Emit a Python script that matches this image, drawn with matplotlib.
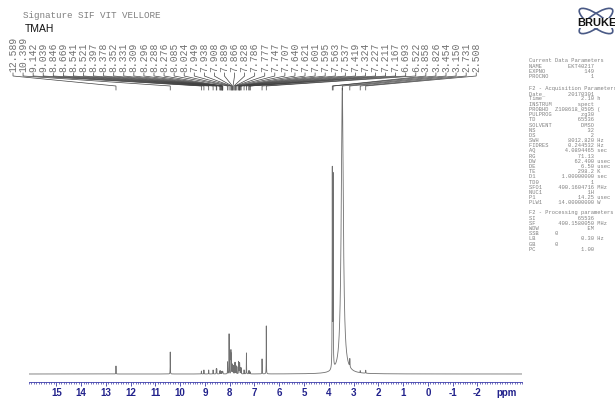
import numpy as np
import matplotlib
matplotlib.use("Agg")
import matplotlib.pyplot as plt
from matplotlib.lines import Line2D
from matplotlib.patches import Ellipse
from matplotlib.ticker import MultipleLocator

plt.rcParams['axes.unicode_minus'] = False

# peak list (ppm) as printed on the spectrum, with heights (px above baseline)
peak_ppm = [12.589, 10.399, 9.142, 9.039, 8.846, 8.669, 8.541, 8.521, 8.397, 8.378,
            8.352, 8.331, 8.309, 8.296, 8.288, 8.276, 8.085, 8.024, 7.949, 7.938,
            7.908, 7.889, 7.866, 7.828, 7.786, 7.777, 7.747, 7.707, 7.640, 7.621,
            7.601, 7.595, 7.563, 7.537, 7.419, 7.324, 7.227, 7.211, 7.167, 6.693,
            6.522, 3.858, 3.826, 3.454, 3.150, 2.731, 2.508]
peak_height = [8, 22, 3, 4, 4, 4, 5, 5, 3, 3,
               2, 2, 2, 2, 2, 2, 12, 40, 22, 18,
               9, 9, 8, 8, 10, 9, 8, 7, 12, 10,
               8, 8, 6, 6, 4, 21, 3, 3, 2, 15,
               48, 197, 190, 286, 8, 2, 3]
peak_width = [0.004] * 41 + [0.006, 0.006, 0.05, 0.006, 0.005, 0.006]

tick_values = list(range(-2, 16))

param_title = "Signature SIF VIT VELLORE"
sample_name = "TMAH"

current_names = ["NAME", "EXPNO", "PROCNO"]
current_values = ["EKT40217", "149", "1"]

acq_names = ["Date_", "Time", "INSTRUM", "PROBHD", "PULPROG", "TD", "SOLVENT", "NS", "DS",
             "SWH", "FIDRES", "AQ", "RG", "DW", "DE", "TE", "D1", "TD0", "SFO1", "NUC1",
             "P1", "PLW1"]
acq_values = ["20170301", "2.10 h", "spect", "Z108618_0505 (", "zg30", "65536", "DMSO",
              "32", "2", "8012.820 Hz", "0.244532 Hz", "4.0894465 sec", "71.13",
              "62.400 usec", "6.50 usec", "298.2 K", "1.00000000 sec", "1",
              "400.1604716 MHz", "1H", "14.25 usec", "14.00000000 W"]

proc_names = ["SI", "SF", "WDW", "SSB", "LB", "GB", "PC"]
proc_values = ["65536", "400.1580050 MHz", "EM", "0", "0.30 Hz", "0", "1.00"]

W, H = 615, 399
fig = plt.figure(figsize=(W / 100, H / 100), dpi=100)


def fx(x):
    return x / W


def fy(y):
    return 1 - y / H


# spectrum axes (height units ~ pixels above baseline)
ax = fig.add_axes([fx(29), fy(382), fx(493), 322 / H])
ax.set_xlim(16.1, -3.8)
ax.set_ylim(-8, 314)

x = np.linspace(16.1, -3.8, 60000)
y = np.zeros_like(x)
for c, h, w in zip(peak_ppm, peak_height, peak_width):
    y += h / (1 + ((x - c) / w) ** 2)
ax.plot(x, y, color='#707070', lw=0.6)

blue = '#3a3aa8'
for s in ['top', 'left', 'right']:
    ax.spines[s].set_visible(False)
ax.spines['bottom'].set_color(blue)
ax.spines['bottom'].set_linewidth(0.6)
ax.set_yticks([])
ax.set_xticks(tick_values)
ax.xaxis.set_minor_locator(MultipleLocator(0.1))
ax.tick_params(axis='x', which='major', direction='out', length=3, width=0.6,
               color=blue, labelcolor='#22228c', labelsize=7, pad=1.5)
ax.tick_params(axis='x', which='minor', direction='out', length=1.5, width=0.5, color=blue)
for t in ax.get_xticklabels():
    t.set_family('Liberation Sans')
    t.set_fontweight('bold')
fig.text(fx(507), fy(393), 'ppm', ha='center', va='center', color='#22228c',
         fontsize=7, family='Liberation Sans', fontweight='bold')

# peak labels with connectors
for i, p in enumerate(peak_ppm):
    lx = 13 + 10.07 * i
    fig.text(fx(lx), fy(72), f"{p:.3f}", rotation=90, ha='center', va='bottom',
             family='Liberation Mono', fontsize=7, color='#707070')
    px = ax.transData.transform((p, 0))[0]
    xs = [fx(lx), fx(lx), px / W, px / W]
    ys = [fy(73), fy(76), fy(86), fy(90)]
    fig.add_artist(Line2D(xs, ys, transform=fig.transFigure, color='#404040', lw=0.5))

# title block
fig.text(fx(23), fy(16), param_title, ha='left', va='center', family='Liberation Mono',
         fontsize=6.7, color='#808080')
fig.text(fx(25), fy(29), sample_name, ha='left', va='center', family='Liberation Sans',
         fontsize=7.5, color='#111111')

# parameter panel
mono = dict(family='Liberation Mono', fontsize=3.9, color='#808080', ha='left', va='center')
yy = 61
step = 5.2
fig.text(fx(529), fy(yy), "Current Data Parameters", **mono)
for n, v in zip(current_names, current_values):
    yy += step
    fig.text(fx(529), fy(yy), f"{n:<8}{v:>12}", **mono)
yy += 12
fig.text(fx(529), fy(yy), "F2 - Acquisition Parameters", **mono)
for n, v in zip(acq_names, acq_values):
    yy += step
    parts = v.split(' ')
    if len(parts) == 2:
        txt = f"{n:<8}{parts[0]:>12} {parts[1]}"
    else:
        txt = f"{n:<8}{v:>12}"
    fig.text(fx(529), fy(yy), txt, **mono)
yy += 10
fig.text(fx(529), fy(yy), "F2 - Processing parameters", **mono)
for n, v in zip(proc_names, proc_values):
    yy += step
    parts = v.split(' ')
    if n in ("SSB", "GB"):
        txt = f"{n:<8}{v}"
    elif len(parts) == 2:
        txt = f"{n:<8}{parts[0]:>12} {parts[1]}"
    else:
        txt = f"{n:<8}{v:>12}"
    fig.text(fx(529), fy(yy), txt, **mono)

# Bruker logo
lax = fig.add_axes([fx(572), fy(42), fx(43), 40 / H])
lax.set_xlim(0, 43)
lax.set_ylim(0, 40)
lax.axis('off')
for ang in (35, -35):
    lax.add_patch(Ellipse((24, 21), 40, 13, angle=ang, fill=False, ec='#4a5a86', lw=1.2))
lax.text(5, 19, "BRUKER", ha='left', va='center', fontsize=8, fontweight='bold',
         family='Liberation Sans', color='#111111',
         bbox=dict(facecolor='white', edgecolor='none', pad=0.3))

fig.savefig('out.png', dpi=100)
